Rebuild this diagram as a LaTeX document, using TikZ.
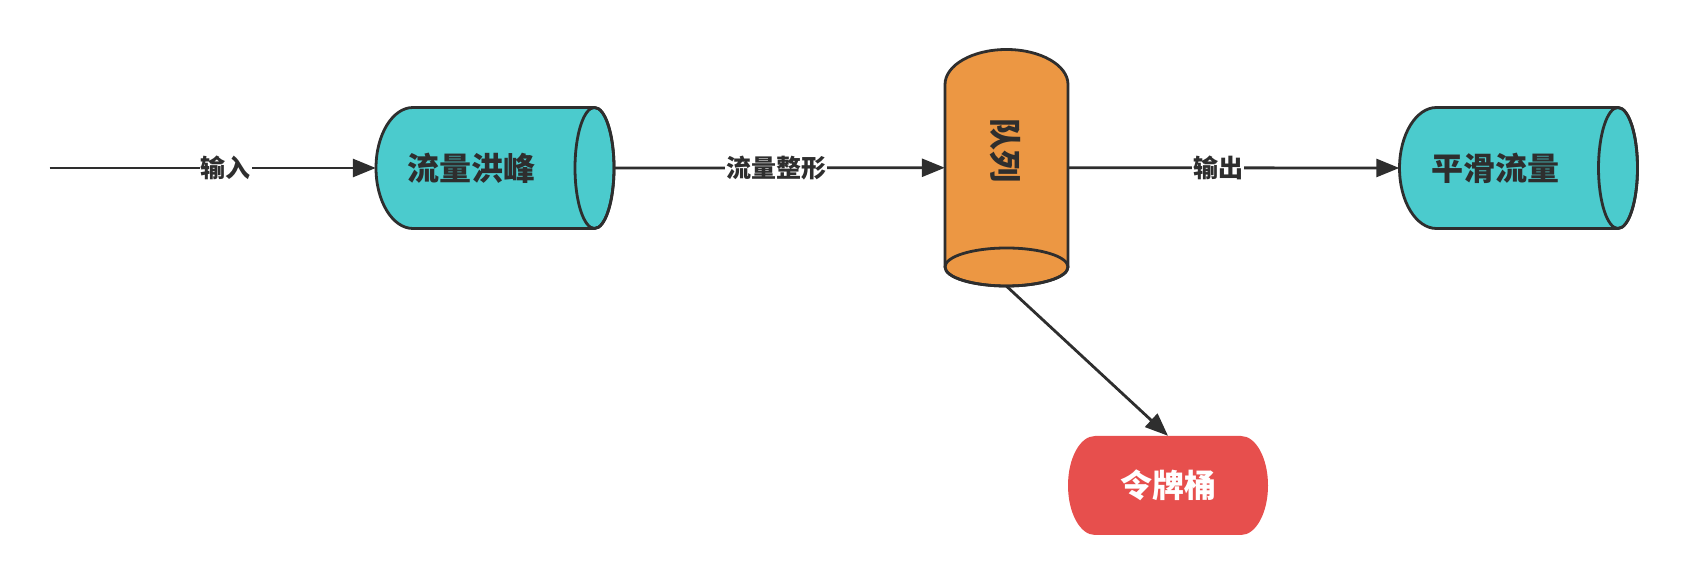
\documentclass[tikz,border=0pt]{standalone}
\usepackage{fontspec}
\newfontfamily\cjk{Noto Sans CJK SC}
\usetikzlibrary{arrows.meta}
\definecolor{teal}{HTML}{4BCBCD}
\definecolor{orng}{HTML}{EC9743}
\definecolor{tokred}{HTML}{E74F4D}
\definecolor{ink}{HTML}{2E2E2E}
\tikzset{
  shapeline/.style={draw=ink, line width=2.8pt, line join=round},
  conn/.style={draw=ink, line width=2.8pt, -{Triangle[length=23pt,width=18pt]}},
  lbl/.style={fill=white, text=ink, font=\cjk\bfseries\fontsize{25}{25}\selectfont, inner sep=1pt},
  big/.style={text=ink, font=\cjk\bfseries\fontsize{32}{32}\selectfont}
}
\begin{document}
\begin{tikzpicture}[x=1pt,y=1pt]
\useasboundingbox (0,0) rectangle (1688,586);
% cylinder 1
\path[shapeline, fill=teal] (594.5,478.5) -- (413,478.5)
  arc[start angle=90, end angle=270, x radius=37, y radius=60.5]
  -- (594.5,357.5)
  arc[start angle=-90, end angle=90, x radius=19.5, y radius=60.5];
\draw[shapeline] (594.5,418) ellipse[x radius=19.5, y radius=60.5];
\node[inner sep=0pt, minimum width=238pt, minimum height=121pt] (c1) at (495,418) {};
\node[big] (t1) at (471,418) {流量洪峰};
% cylinder 3
\path[shapeline, fill=teal] (1618,478.5) -- (1436.5,478.5)
  arc[start angle=90, end angle=270, x radius=37, y radius=60.5]
  -- (1618,357.5)
  arc[start angle=-90, end angle=90, x radius=19.5, y radius=60.5];
\draw[shapeline] (1618,418) ellipse[x radius=19.5, y radius=60.5];
\node[inner sep=0pt, minimum width=238pt, minimum height=121pt] (c3) at (1518.5,418) {};
\node[big] (t3) at (1495,418) {平滑流量};
% queue
\path[shapeline, fill=orng] (945,319) -- (945,501.5)
  arc[start angle=180, end angle=0, x radius=61.5, y radius=35]
  -- (1068,319)
  arc[start angle=0, end angle=-180, x radius=61.5, y radius=19];
\draw[shapeline] (1006.5,319) ellipse[x radius=61.5, y radius=19];
\node[inner sep=0pt, minimum width=123pt, minimum height=236.5pt] (q) at (1006.5,418.25) {};
\node[big, rotate=-90] (tq) at (1005,435) {队列};
% token bucket
\path[fill=tokred] (1095,150) -- (1241,150)
  arc[start angle=90, end angle=-90, x radius=27, y radius=49.5]
  -- (1095,51)
  arc[start angle=270, end angle=90, x radius=27, y radius=49.5] -- cycle;
\node[inner sep=0pt, minimum width=200pt, minimum height=99pt] (tb) at (1168,100.5) {};
\node[big, text=white] (tt) at (1168,101) {令牌桶};
% connectors
\coordinate (in) at (49.5,418);
\draw[conn] (in) -- node[lbl, pos=0.54] {输入} (c1.west);
\draw[conn] (c1.east) -- node[lbl, pos=0.49] {流量整形} (q.west);
\draw[conn] (q.east) -- node[lbl, pos=0.453] {输出} (c3.west);
\draw[conn] (q.south) -- (tb.north);
\end{tikzpicture}
\end{document}
